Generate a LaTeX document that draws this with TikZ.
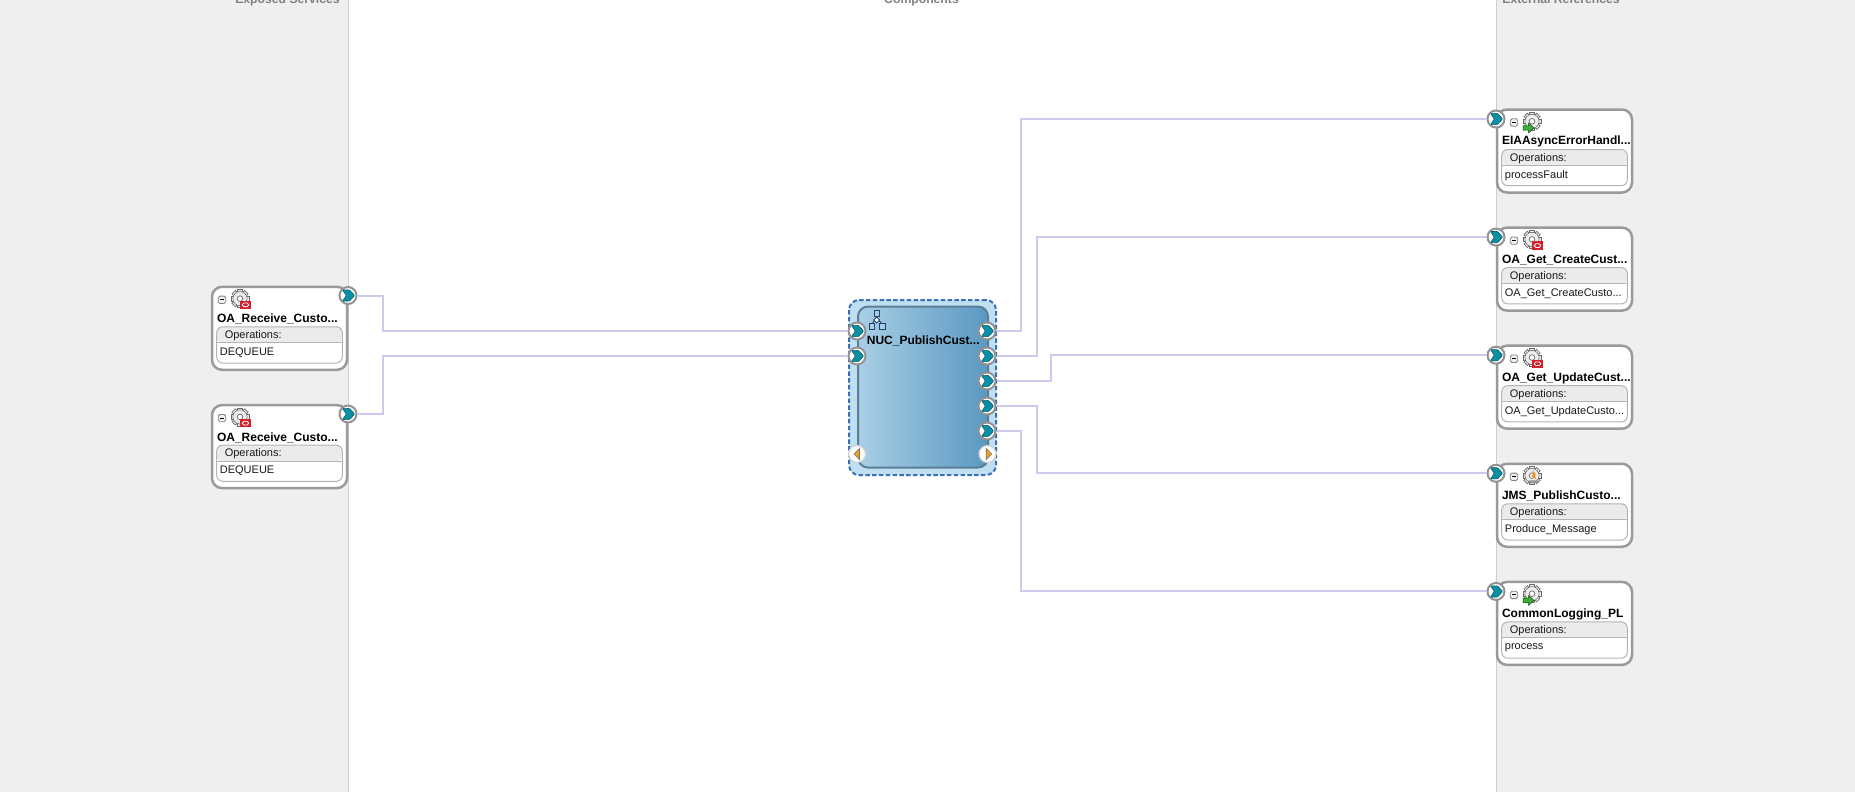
\documentclass[tikz,border=0pt]{standalone}
\usepackage{fontspec}
\setmainfont{Liberation Sans}
\usetikzlibrary{calc}
\definecolor{panel}{HTML}{EFEFEF}
\definecolor{divider}{HTML}{CFCFCF}
\definecolor{boxline}{HTML}{9A9A9A}
\definecolor{innerline}{HTML}{B4B4B4}
\definecolor{headfill}{HTML}{EBEBEB}
\definecolor{wire}{HTML}{CDCAF0}
\definecolor{teal}{HTML}{0C8FA3}
\definecolor{tealdark}{HTML}{0A5F6C}
\definecolor{compfill}{HTML}{BFE0F0}
\definecolor{compdash}{HTML}{3B6FB5}
\definecolor{gradL}{HTML}{A9CFE6}
\definecolor{gradR}{HTML}{5A98C1}
\definecolor{compline}{HTML}{5B7F97}
\definecolor{orng}{HTML}{F0A020}
\definecolor{hdr}{HTML}{808080}
\definecolor{gearline}{HTML}{6A6A6A}
\definecolor{oracle}{HTML}{D5202A}
\definecolor{greenarrow}{HTML}{3FAE3A}
\tikzset{
  x=.5pt,y=-.5pt,
  wirel/.style={draw=wire,line width=1pt},
  portb/.style={circle,draw=gray!85,line width=1pt,fill=white,minimum size=8.5pt,inner sep=0pt},
  trib/.style={circle,draw=gray!35,line width=.6pt,fill=white,minimum size=8.5pt,inner sep=0pt},
  svcbox/.style={draw=boxline,line width=1.25pt,fill=white,rounded corners=5pt,minimum width=67.5pt,minimum height=41.5pt,inner sep=0pt},
  ttl/.style={anchor=west,inner sep=0pt,font=\fontsize{6}{7}\selectfont\bfseries},
  opt/.style={anchor=west,inner sep=0pt,font=\fontsize{5.5}{6.5}\selectfont,text=black!90},
  hdrl/.style={anchor=base,inner sep=0pt,text=hdr,font=\fontsize{6.1}{8}\selectfont\bfseries}
}
\newcommand{\chev}[1]{\path[fill=teal,draw=tealdark,line width=.3pt,rounded corners=.4pt] ($(#1)+(-5.5,-5.6)$) -- ++(7,0) -- ++(5.2,5.6) -- ++(-5.2,5.6) -- ++(-7,0) -- ++(3.8,-5.6) -- cycle;}
\newcommand{\gear}[2]{%
  \begin{scope}[shift={(#1,#2)}]
    \foreach \a in {0,45,...,315}{\fill[gray!15,draw=gearline,line width=.35pt,rotate=\a] (-2.4,-9) rectangle (2.4,-5);}
    \fill[gray!15,draw=gearline,line width=.4pt] (0,0) circle[radius=7];
    \fill[gray!15] (0,0) circle[radius=6.6];
    \draw[gearline,line width=.35pt,fill=white] (0,0) circle[radius=2.8];
  \end{scope}}
\newcommand{\badgeO}[2]{%
  \begin{scope}[shift={(#1,#2)}]
    \fill[oracle] (-5.5,-4.2) rectangle (5.5,4.2);
    \draw[white,line width=.4pt,rounded corners=.8pt] (-3.2,-1.8) rectangle (3.2,1.8);
  \end{scope}}
\newcommand{\badgeA}[2]{%
  \begin{scope}[shift={(#1,#2)}]
    \fill[greenarrow,draw=green!30!black,line width=.25pt] (-5.5,-2.2) -- (0,-2.2) -- (0,-5) -- (5.5,0) -- (0,5) -- (0,2.2) -- (-5.5,2.2) -- cycle;
  \end{scope}}
\newcommand{\badgeJ}[2]{%
  \begin{scope}[shift={(#1,#2)}]
    \fill[orng!90!red] (-1,-6) -- (2.5,-2) -- (1,-1.5) -- (3,3) -- (-2.5,-.5) -- (-.5,-1.5) -- cycle;
    \fill[gearline!70] (-5,4) -- (5,4) -- (3,7) -- (-3,7) -- cycle;
  \end{scope}}
\newcommand{\svc}[7]{%
  \begin{scope}[shift={(#2,#3)}]
    \node[svcbox,anchor=center] (#1) at (68.5,42) {};
    \fill[headfill,rounded corners=2.5pt] (5.7,40.5) -- (5.7,56.5) -- (131.3,56.5) -- (131.3,40.5) -- cycle;
    \draw[innerline,line width=.5pt,rounded corners=3pt] (5.7,40.5) rectangle (131.3,76.7);
    \draw[innerline,line width=.5pt] (5.7,56.5) -- (131.3,56.5);
    \draw[gray,line width=.4pt,fill=gray!12,rounded corners=.8pt] (#6-3.7,9.8) rectangle (#6+3.7,17.2);
    \draw[black,line width=.5pt] (#6-2.2,13.5) -- (#6+2.2,13.5);
    \gear{#6+18}{12.3}
    #7
    \node[ttl] (#1-title) at (5.6,32.8) {#4};
    \node[opt] (#1-opl) at (13.4,49.2) {Operations:};
    \node[opt] (#1-op) at (8.5,66.2) {#5};
  \end{scope}}
\begin{document}
\begin{tikzpicture}
\useasboundingbox (0,0) rectangle (1855,809);
\clip (0,0) rectangle (1855,809);
\fill[panel] (0,0) rectangle (348,792);
\fill[panel] (1496,0) rectangle (1855,792);
\draw[divider,line width=.5pt] (348.5,0) -- (348.5,792);
\draw[divider,line width=.5pt] (1496,0) -- (1496,792);
\node[hdrl] (hexp) at (287.5,3) {Exposed Services};
\node[hdrl] (hcomp) at (921.5,3) {Components};
\node[hdrl] (hext) at (1561,3) {External References};

\svc{s1}{211}{286.3}{OA\_Receive\_Custo...}{DEQUEUE}{11}{\badgeO{34.5}{18.5}}
\svc{s2}{211}{404.6}{OA\_Receive\_Custo...}{DEQUEUE}{11}{\badgeO{34.5}{18.5}}
\svc{r1}{1496}{109}{EIAAsyncErrorHandl...}{processFault}{18}{\badgeA{32.5}{19}}
\svc{r2}{1496}{227.1}{OA\_Get\_CreateCust...}{OA\_Get\_CreateCusto...}{18}{\badgeO{41.5}{18.5}}
\svc{r3}{1496}{345.2}{OA\_Get\_UpdateCust...}{OA\_Get\_UpdateCusto...}{18}{\badgeO{41.5}{18.5}}
\svc{r4}{1496}{463.3}{JMS\_PublishCusto...}{Produce\_Message}{18}{\badgeJ{37.5}{13}}
\svc{r5}{1496}{581.4}{CommonLogging\_PL}{process}{18}{\badgeA{32.5}{19}}

\node[draw=compdash,dashed,dash pattern=on 2.2pt off 1.2pt,line width=1pt,fill=compfill,rounded corners=5pt,minimum width=73.5pt,minimum height=87.5pt,inner sep=0pt] (compo) at (922.5,387.5) {};
\node[draw=compline,line width=1pt,left color=gradL,right color=gradR,rounded corners=5pt,minimum width=65pt,minimum height=80.5pt,inner sep=0pt] (compi) at (923,387) {};
\begin{scope}[compdash!60!black,line width=.4pt]
  \draw[fill=gradL] (874,310.5) rectangle (879.5,316);
  \draw (876.7,316) -- (876.7,318) (872,324) -- (874.5,320.5) (882,324) -- (879.2,320.5);
  \draw[fill=white] (876.7,317) -- (879.7,320) -- (876.7,323) -- (873.7,320) -- cycle;
  \draw[fill=gradL] (869,323.5) rectangle (874.5,329);
  \draw[fill=gradL] (879.5,323.5) rectangle (885,329);
\end{scope}
\node[ttl] (compt) at (866.5,340.8) {NUC\_PublishCust...};

\foreach \n/\x/\y in {ps1/348/295.5,ps2/348/414,pr1/1496/119,pr2/1496/237.1,pr3/1496/355.2,pr4/1496/473.3,pr5/1496/591.4,
  cl1/857/331,cl2/857/356,cr1/987/331,cr2/987/356,cr3/987/381,cr4/987/406,cr5/987/431}{
  \node[portb] (\n) at (\x,\y) {};
  \chev{\n}
}
\node[trib] (tl) at (857,454) {};
\node[trib] (tr) at (987.5,454) {};
\fill[orng,draw=black!55,line width=.3pt] ($(tl)+(-3,0)$) -- ++(5.5,-5.6) -- ++(0,11.2) -- cycle;
\fill[orng,draw=black!55,line width=.3pt] ($(tr)+(4.2,0)$) -- ++(-5.5,-5.6) -- ++(0,11.2) -- cycle;

\coordinate (a1) at (383,313);
\coordinate (a2) at (383,385);
\coordinate (b1) at (1021,225);
\coordinate (b2) at (1037,296);
\coordinate (b3) at (1051,368);
\coordinate (b4) at (1037,440);
\coordinate (b5) at (1021,511);

\draw[wirel] (ps1) -| (a1) |- (cl1);
\draw[wirel] (ps2) -| (a2) |- (cl2);
\draw[wirel] (cr1) -| (b1) |- (pr1);
\draw[wirel] (cr2) -| (b2) |- (pr2);
\draw[wirel] (cr3) -| (b3) |- (pr3);
\draw[wirel] (cr4) -| (b4) |- (pr4);
\draw[wirel] (cr5) -| (b5) |- (pr5);
\end{tikzpicture}
\end{document}
